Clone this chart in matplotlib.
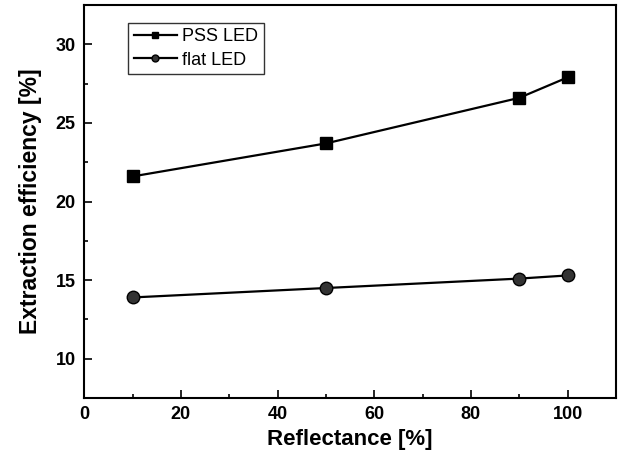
import matplotlib
matplotlib.use("Agg")
import matplotlib.pyplot as plt
from matplotlib.ticker import MultipleLocator

plt.rcParams['font.family'] = ['Liberation Sans', 'DejaVu Sans']

reflectance = [10, 50, 90, 100]
pss_led = [21.6, 23.7, 26.6, 27.9]
flat_led = [13.9, 14.5, 15.1, 15.3]

fig = plt.figure(figsize=(6.19, 4.65), dpi=100)
ax = fig.add_axes([0.136, 0.144, 0.859, 0.845])

ax.plot(reflectance, pss_led, '-', color='black', lw=1.6, marker='s', ms=9,
        mfc='black', mec='black', label='PSS LED')
ax.plot(reflectance, flat_led, '-', color='black', lw=1.6, marker='o', ms=9,
        mfc='#333333', mec='black', label='flat LED')

ax.set_xlim(0, 110)
ax.set_ylim(7.5, 32.5)
ax.xaxis.set_major_locator(MultipleLocator(20))
ax.xaxis.set_minor_locator(MultipleLocator(10))
ax.yaxis.set_major_locator(MultipleLocator(5))
ax.yaxis.set_minor_locator(MultipleLocator(2.5))
ax.tick_params(which='both', direction='in', width=1.2)
ax.tick_params(which='major', length=6, labelsize=13, pad=6)
ax.tick_params(which='minor', length=3)
for lab in ax.get_xticklabels() + ax.get_yticklabels():
    lab.set_fontweight('bold')
for s in ax.spines.values():
    s.set_linewidth(1.5)

ax.set_xlabel('Reflectance [%]', fontsize=16, fontweight='bold', labelpad=4)
ax.set_ylabel('Extraction efficiency [%]', fontsize=16.5, fontweight='bold', labelpad=10)

leg = ax.legend(loc='upper left', bbox_to_anchor=(0.083, 0.955), fontsize=13,
                frameon=True, fancybox=False, edgecolor='black', handlelength=2.4,
                handletextpad=0.3, borderpad=0.3, labelspacing=0.35, borderaxespad=0,
                markerscale=0.55)
leg.get_frame().set_linewidth(1.0)

fig.savefig('out.png', dpi=100)
